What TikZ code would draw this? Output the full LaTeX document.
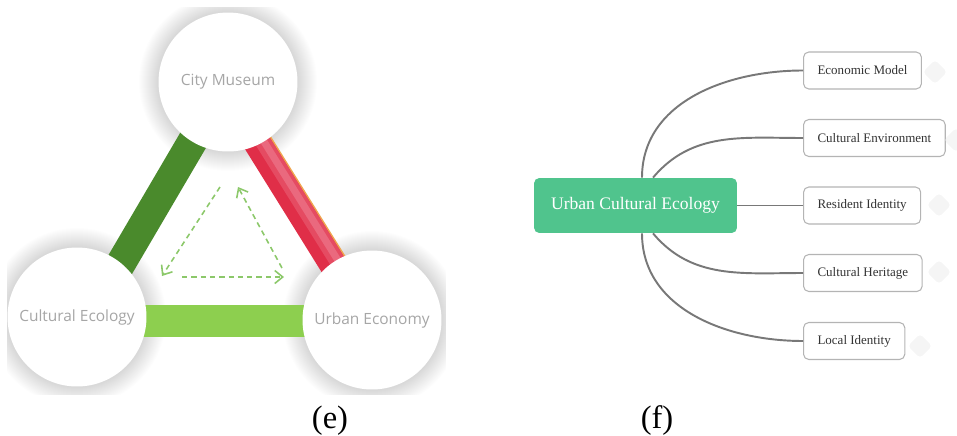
\documentclass[tikz,border=0pt]{standalone}
\usepackage{fontspec}
\setmainfont{Liberation Serif}
\newfontfamily\circlefont{Open Sans}
\usepackage{tikz}
\usetikzlibrary{arrows.meta,positioning,backgrounds}

\definecolor{barDark}{HTML}{4A8A2C}
\definecolor{barLight}{HTML}{8DCF4F}
\definecolor{barRed}{HTML}{E02E48}
\definecolor{barPink}{HTML}{F4A3B3}
\definecolor{barEdge}{HTML}{F0A550}
\definecolor{dashGreen}{HTML}{8CC86A}
\definecolor{labelGray}{HTML}{A6A6A6}
\definecolor{rootGreen}{HTML}{50C48D}
\definecolor{branchGray}{HTML}{787878}
\definecolor{leafBorder}{HTML}{B4B4B4}
\definecolor{leafText}{HTML}{333333}

\begin{document}
\begin{tikzpicture}[x=0.02cm, y=-0.02cm,
  hub/.style={circle, fill=white, minimum size=2.78cm, inner sep=0pt, align=center, text=labelGray, font=\circlefont\fontsize{8.8}{10}\selectfont},
  bar/.style={line width=#1, line cap=butt},
  flow/.style={-{Straight Barb[length=1.6mm, width=2.6mm]}, dashGreen, line width=0.9pt, dash pattern=on 3pt off 2.3pt},
  root/.style={fill=rootGreen, rounded corners=3pt, minimum width=4.06cm, minimum height=1.1cm, text=white, font=\fontsize{10}{12}\selectfont},
  leaf/.style={draw=leafBorder, line width=0.6pt, fill=white, rounded corners=3pt, anchor=west, minimum height=0.74cm, inner xsep=0.28cm, text=leafText, font=\fontsize{7.4}{9}\selectfont},
  branch/.style={draw=branchGray, line width=1.1pt},
  ghost/.style={fill=black!4, minimum size=0.34cm, rotate=45, rounded corners=2pt, inner sep=0pt},
  caption/.style={font=\fontsize{18.5}{20}\selectfont}
]
\useasboundingbox (0,0) rectangle (957,436);

\node[hub] (museum) at (228,82) {City Museum};
\node[hub] (ecology) at (77,317) {Cultural Ecology};
\node[hub] (economy) at (372,320) {Urban Economy};

\begin{scope}[on background layer]
  \clip (7,7) rectangle (446,394);
  \foreach \n in {museum,ecology,economy}
    \foreach \r in {70,...,89}
      \fill[black, opacity=0.009] (\n.center) circle (\r);
  \draw[bar=17pt, barDark] ([shift={(23,-18)}]ecology.center) -- ([shift={(-13,21)}]museum.center);
  \draw[bar=18pt, barLight] ([shift={(40,4)}]ecology.center) -- ([shift={(-40,1)}]economy.center);
  \draw[bar=16pt, barRed] ([shift={(12,32.5)}]museum.center) -- ([shift={(-25.5,-34.5)}]economy.center);
  \draw[bar=9pt, barPink, opacity=.25] ([shift={(16.3,29.8)}]museum.center) -- ([shift={(-21.2,-37.2)}]economy.center);
  \draw[bar=4pt, barPink, opacity=.35] ([shift={(17.1,29.3)}]museum.center) -- ([shift={(-20.4,-37.7)}]economy.center);
  \draw[bar=0.8pt, barEdge] ([shift={(23.9,25.1)}]museum.center) -- ([shift={(-13.6,-41.9)}]economy.center);
\end{scope}

\coordinate (leftTop) at (220,187);
\coordinate (leftEnd) at (162,276);
\coordinate (rightLow) at (282,268);
\coordinate (rightEnd) at (238,187);
\coordinate (baseStart) at (182,277);
\coordinate (baseEnd) at (284,277);
\draw[flow] (leftTop) -- (leftEnd);
\draw[flow] (rightLow) -- (rightEnd);
\draw[flow] (baseStart) -- (baseEnd);

\node[root] (hubroot) at (635.5,205.5) {Urban Cultural Ecology};
\node[leaf] (model) at (803,70.5) {Economic Model};
\node[leaf] (environment) at (803,138) {Cultural Environment};
\node[leaf] (resident) at (803,205.5) {Resident Identity};
\node[leaf] (heritage) at (803,273) {Cultural Heritage};
\node[leaf] (local) at (803,341) {Local Identity};

\node[ghost] (markA) at (935,72) {};
\node[ghost] (markB) at (956,140) {};
\node[ghost] (markC) at (939,205) {};
\node[ghost] (markD) at (939,272) {};
\node[ghost] (markE) at (920,346) {};

\draw[branch] ([xshift=0.13cm]hubroot.north) to[out=90, in=180] (model.west);
\draw[branch] ([xshift=0.35cm]hubroot.north) to[out=50, in=180] (environment.west);
\draw[branch] (hubroot.east) -- (resident.west);
\draw[branch] ([xshift=0.35cm]hubroot.south) to[out=-50, in=180] (heritage.west);
\draw[branch] ([xshift=0.13cm]hubroot.south) to[out=-90, in=180] (local.west);

\node[caption] (capE) at (330,421) {(e)};
\node[caption] (capF) at (657,421) {(f)};
\end{tikzpicture}
\end{document}
